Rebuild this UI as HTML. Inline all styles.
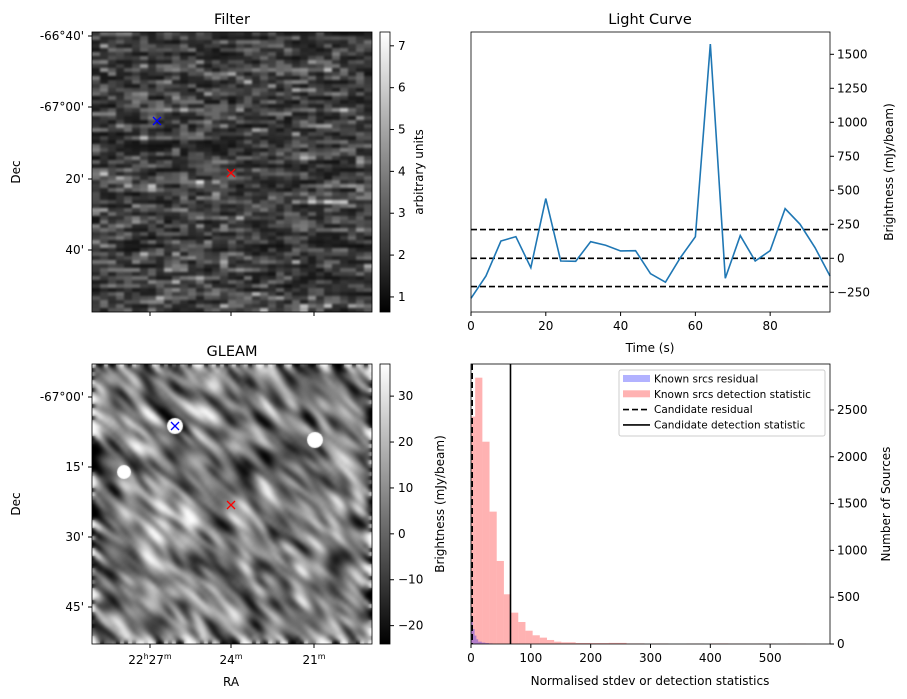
<!DOCTYPE html>
<html><head><meta charset="utf-8">
<style>
body{margin:0;background:#fff;width:907px;height:699px;overflow:hidden;position:relative;font-family:"Liberation Sans","DejaVu Sans",sans-serif}
canvas{position:absolute}
svg{position:absolute;left:0;top:0}
text{font-family:"DejaVu Sans","Liberation Sans",sans-serif;font-size:12px;fill:#000}
</style></head><body>
<canvas id="cf" width="280" height="280" style="left:92px;top:32px"></canvas>
<canvas id="cg" width="280" height="280" style="left:92px;top:364px"></canvas>
<svg id="s" width="907" height="699">
<defs>
<linearGradient id="gf" x1="0" y1="1" x2="0" y2="0"><stop offset="0" stop-color="#000"/><stop offset="1" stop-color="#fff"/></linearGradient>
</defs>
<g id="g"></g>
</svg>
<script>
// ---------- data ----------
const lcTimes=[0,4,8,12,16,20,24,28,32,36,40,44,48,52,56,60,64,68,72,76,80,84,88,92,96];
const lcValues=[-294,-130,127,159,-69,439,-20,-22,122,96,54,56,-113,-176,5,159,1575,-147,167,-20,56,365,250,78,-130];
const lcLevels=[-208,0,211];
const lcYTicks=[-250,0,250,500,750,1000,1250,1500];
const lcXTicks=[0,20,40,60,80];
const histBinStart=[0,7,19,31,43,55,67,79,91,103,115,127,139,151,175,200,230,260,300,360,400,430,460,480,530];
const histCounts=[2429,2845,2161,1414,887,531,335,235,142,93,68,43,25,18,11,10,12,6,5,3,6,4,3,5,4];
const resBinStart=[0,3,6,9,12,18,24,30];
const resCounts=[300,160,90,50,25,15,10,6];
const candResidual=2;
const candDetection=66;
const histXTicks=[0,100,200,300,400,500];
const histYTicks=[0,500,1000,1500,2000,2500];
const filterCbTicks=[1,2,3,4,5,6,7];
const gleamCbTicks=[-20,-10,0,10,20,30];

const NS="http://www.w3.org/2000/svg";
const G=document.getElementById('g');
function el(tag,attrs,parent){const e=document.createElementNS(NS,tag);for(const k in attrs)e.setAttribute(k,attrs[k]);(parent||G).appendChild(e);return e;}
function txt(x,y,s,anchor,extra){const t=el('text',Object.assign({x:x,y:y,'text-anchor':anchor||'middle'},extra||{}));t.textContent=s;return t;}

// ---------- light curve ----------
const LC={x0:471,x1:830,y0:32,y1:312,xmin:0,xmax:96,ymin:-395,ymax:1664};
const lx=v=>LC.x0+(v-LC.xmin)/(LC.xmax-LC.xmin)*(LC.x1-LC.x0);
const ly=v=>LC.y1-(v-LC.ymin)/(LC.ymax-LC.ymin)*(LC.y1-LC.y0);
lcLevels.forEach(v=>{const l=el('line',{x1:LC.x0,x2:LC.x1,y1:ly(v),y2:ly(v),stroke:'#000','stroke-width':1.6,'stroke-dasharray':'6,3'});

});
const lcPath=el('polyline',{points:lcTimes.map((t,i)=>lx(t)+','+ly(lcValues[i])).join(' '),fill:'none',stroke:'#1f77b4','stroke-width':1.6});


el('rect',{x:LC.x0,y:LC.y0,width:LC.x1-LC.x0,height:LC.y1-LC.y0,fill:'none',stroke:'#000','stroke-width':0.8});
lcXTicks.forEach(v=>{el('line',{x1:lx(v),x2:lx(v),y1:LC.y1,y2:LC.y1+4,stroke:'#000'});txt(lx(v),LC.y1+18,String(v));});
lcYTicks.forEach(v=>{el('line',{x1:LC.x1,x2:LC.x1+4,y1:ly(v),y2:ly(v),stroke:'#000'});txt(LC.x1+7,ly(v)+4,String(v).replace('-','−'),'start');});
txt(650,24,'Light Curve','middle',{style:'font-size:14.5px'});
txt(650,352,'Time (s)');
txt(0,0,'Brightness (mJy/beam)','middle',{transform:'translate(893,172) rotate(-90)'});

// ---------- histogram ----------
const H={x0:471,x1:830,y0:364,y1:644,xmin:0,xmax:600,ymin:0,ymax:2991};
const hx=v=>H.x0+(v-H.xmin)/(H.xmax-H.xmin)*(H.x1-H.x0);
const hy=v=>H.y1-(v-H.ymin)/(H.ymax-H.ymin)*(H.y1-H.y0);
histBinStart.forEach((b,i)=>{const e=(i+1<histBinStart.length)?histBinStart[i+1]:b+30;
const w=Math.min(e-b,b<150?12:30);
const r=el('rect',{x:hx(b),y:hy(histCounts[i]),width:hx(b+w)-hx(b),height:hy(0)-hy(histCounts[i]),fill:'#ff0000','fill-opacity':0.3});

});
resBinStart.forEach((b,i)=>{const e=(i+1<resBinStart.length)?resBinStart[i+1]:b+6;
const r=el('rect',{x:hx(b),y:hy(resCounts[i]),width:hx(e)-hx(b),height:hy(0)-hy(resCounts[i]),fill:'#0000ff','fill-opacity':0.3});

});
el('line',{x1:hx(candResidual),x2:hx(candResidual),y1:H.y0,y2:H.y1,stroke:'#000','stroke-width':1.6,'stroke-dasharray':'6,3'});
el('line',{x1:hx(candDetection),x2:hx(candDetection),y1:H.y0,y2:H.y1,stroke:'#000','stroke-width':1.6});
el('rect',{x:H.x0,y:H.y0,width:H.x1-H.x0,height:H.y1-H.y0,fill:'none',stroke:'#000','stroke-width':0.8});
histXTicks.forEach(v=>{el('line',{x1:hx(v),x2:hx(v),y1:H.y1,y2:H.y1+4,stroke:'#000'});txt(hx(v),H.y1+18,String(v));});
histYTicks.forEach(v=>{el('line',{x1:H.x1,x2:H.x1+4,y1:hy(v),y2:hy(v),stroke:'#000'});txt(H.x1+7,hy(v)+4,String(v),'start');});
txt(650,685,'Normalised stdev or detection statistics');
txt(0,0,'Number of Sources','middle',{transform:'translate(890,504) rotate(-90)'});
txt(0,0,'Brightness (mJy/beam)','middle',{transform:'translate(444,504) rotate(-90)'});
// legend
const lg=el('g',{});
el('rect',{x:619,y:370,width:206,height:66,fill:'#fff','fill-opacity':0.8,stroke:'#ccc',rx:2},lg);
[['Known srcs residual','b'],['Known srcs detection statistic','r'],['Candidate residual','d'],['Candidate detection statistic','s']].forEach((it,i)=>{
 const y=379+i*15.3;
 if(it[1]==='b')el('rect',{x:623,y:y-4,width:27,height:7,fill:'#0000ff','fill-opacity':0.3},lg);
 else if(it[1]==='r')el('rect',{x:623,y:y-4,width:27,height:7,fill:'#ff0000','fill-opacity':0.3},lg);
 else el('line',{x1:623,x2:650,y1:y,y2:y,stroke:'#000','stroke-width':1.6,'stroke-dasharray':it[1]==='d'?'6,3':''},lg);
 const t=txt(654,y+3.5,it[0],'start',{style:'font-size:10.5px'});lg.appendChild(t);
});

// ---------- image panels ----------
function panelFrame(x,y){el('rect',{x:x,y:y,width:280,height:280,fill:'none',stroke:'#000','stroke-width':0.8});}
panelFrame(92,32);panelFrame(92,364);
txt(232,24,'Filter','middle',{style:'font-size:14.5px'});
txt(232,356,'GLEAM','middle',{style:'font-size:14.5px'});
txt(0,0,'Dec','middle',{transform:'translate(20,172) rotate(-90)'});
txt(0,0,'Dec','middle',{transform:'translate(20,504) rotate(-90)'});
[["-66°40'",36],["-67°00'",107],["20'",179],["40'",250]].forEach(a=>{txt(84,a[1]+4,a[0],'end');el('line',{x1:88,x2:92,y1:a[1],y2:a[1],stroke:'#000'});});
[["-67°00'",397],["15'",467],["30'",537],["45'",607]].forEach(a=>{txt(84,a[1]+4,a[0],'end');el('line',{x1:88,x2:92,y1:a[1],y2:a[1],stroke:'#000'});});
[[150,'22','27'],[231,'','24'],[314,'','21']].forEach(a=>{
 const t=el('text',{x:a[0],y:664,'text-anchor':'middle'});
 t.innerHTML=(a[1]?a[1]+'<tspan dy="-5" style="font-size:8px">h</tspan><tspan dy="5">'+a[2]+'</tspan>':a[2])+'<tspan dy="-5" style="font-size:8px">m</tspan>';
 el('line',{x1:a[0],x2:a[0],y1:644,y2:648,stroke:'#000'});
 el('line',{x1:a[0],x2:a[0],y1:312,y2:316,stroke:'#000'});
});
txt(231,686,'RA');
function cross(x,y,c){el('path',{d:`M${x-4},${y-4}L${x+4},${y+4}M${x-4},${y+4}L${x+4},${y-4}`,stroke:c,'stroke-width':1.3});}
// colorbars
el('rect',{x:380,y:32,width:10,height:280,fill:'url(#gf)',stroke:'#000','stroke-width':0.8});
el('rect',{x:380,y:364,width:10,height:280,fill:'url(#gf)',stroke:'#000','stroke-width':0.8});
const fcy=v=>312-(v-0.64)/(7.33-0.64)*280;
filterCbTicks.forEach(v=>{el('line',{x1:390,x2:394,y1:fcy(v),y2:fcy(v),stroke:'#000'});txt(398,fcy(v)+4,String(v),'start');});
const gcy=v=>644-(v+24)/(37+24)*280;
gleamCbTicks.forEach(v=>{el('line',{x1:390,x2:394,y1:gcy(v),y2:gcy(v),stroke:'#000'});txt(398,gcy(v)+4,String(v).replace('-','−'),'start');});
txt(0,0,'arbitrary units','middle',{transform:'translate(423,172) rotate(-90)'});

// image textures (seeded)
let seed=12345;function rnd(){seed=(seed*1103515245+12345)&0x7fffffff;return seed/0x7fffffff;}
(function(){const c=document.getElementById('cf').getContext('2d');
 for(let j=0;j<70;j++){let prev=rnd();for(let i=0;i<35;i++){const v=0.5*prev+0.5*rnd();prev=v;
  const g=Math.max(0,Math.min(255,Math.round(15+v*v*170+(rnd()<0.06?70:0))));
  c.fillStyle=`rgb(${g},${g},${g})`;c.fillRect(i*8,j*4,8,4);}}
 c.filter='blur(1px)';c.drawImage(c.canvas,0,0);c.filter='none';})();
(function(){const c=document.getElementById('cg').getContext('2d');const N=70;let a=[];
 for(let i=0;i<N*N;i++)a.push(rnd()-0.5);
 for(let p=0;p<3;p++){const b=a.slice();for(let y=1;y<N-1;y++)for(let x=1;x<N-1;x++){
  b[y*N+x]=0.3*a[y*N+x]+0.25*a[(y-1)*N+x-1]+0.25*a[(y+1)*N+x+1]+0.05*(a[y*N+x-1]+a[y*N+x+1]+a[(y-1)*N+x]+a[(y+1)*N+x]);}a=b;}
 let s=0;a.forEach(v=>s+=v*v);s=Math.sqrt(s/a.length);
 for(let y=0;y<N;y++)for(let x=0;x<N;x++){let g=Math.round(125+a[y*N+x]/s*70);g=Math.max(0,Math.min(255,g));
  c.fillStyle=`rgb(${g},${g},${g})`;c.fillRect(x*4,y*4,4,4);}
 c.filter='blur(2px)';c.drawImage(c.canvas,0,0);c.filter='none';
 c.fillStyle='#fff';[[83,62,8],[32,108,7],[223,76,8]].forEach(b=>{c.beginPath();c.arc(b[0],b[1],b[2],0,7);c.fill();});})();
cross(157,121,'#0000ff');cross(231,173,'#ff0000');
cross(175,426,'#0000ff');cross(231,505,'#ff0000');
</script>
</body></html>
